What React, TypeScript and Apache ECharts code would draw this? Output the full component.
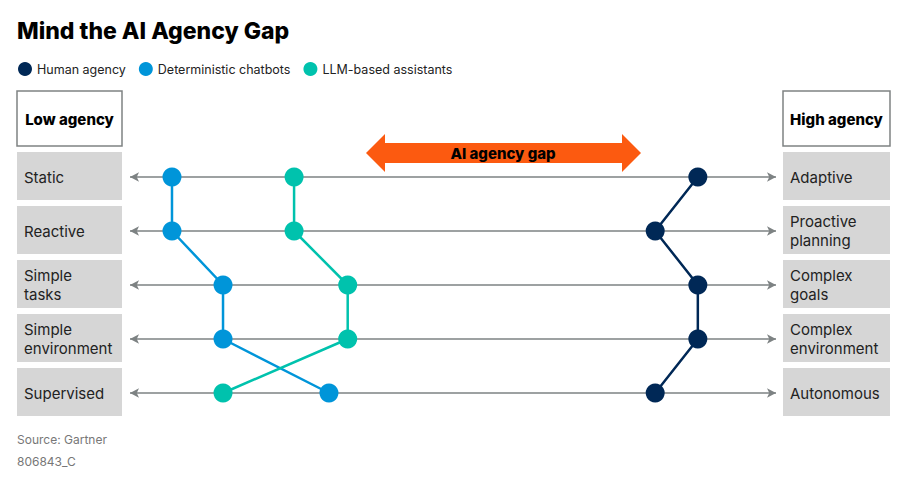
import React, { useEffect, useRef } from "react";
import * as echarts from "echarts";

const lowLabels = ["Static", "Reactive", "Simple\ntasks", "Simple\nenvironment", "Supervised"];
const highLabels = ["Adaptive", "Proactive\nplanning", "Complex\ngoals", "Complex\nenvironment", "Autonomous"];
const seriesNames = ["Human agency", "Deterministic chatbots", "LLM-based assistants"];
const seriesColors = ["#002856", "#0095d9", "#00c2ad"];
// agency position (0 = low, 100 = high) per row
const humanValues = [87.9, 81.3, 87.9, 87.9, 81.3];
const chatbotValues = [6.5, 6.5, 14.4, 14.4, 30.8];
const llmValues = [25.4, 25.4, 33.7, 33.7, 14.4];

const FONT = "Inter, 'Noto Sans', sans-serif";

export default function App() {
  const ref = useRef<HTMLDivElement>(null);
  useEffect(() => {
    document.body.style.margin = "0";
    const chart = echarts.init(ref.current!, null, { renderer: "svg" });
    const gridTop = 150, band = 54, gridLeft = 130, gridRight = 141;
    const allValues = [humanValues, chatbotValues, llmValues];
    const dataSeries = seriesNames.map((name, s) => ({
      name,
      type: "line",
      z: 5,
      symbol: "circle",
      symbolSize: 19,
      itemStyle: { color: seriesColors[s] },
      lineStyle: { color: seriesColors[s], width: 2.5 },
      data: allValues[s].map((v, i) => [v, lowLabels[i]]),
    }));
    const graphics: any[] = [];
    lowLabels.forEach((_, i) => {
      graphics.push({ type: "rect", z: -1, shape: { x: 17, y: gridTop + i * band + 2, width: 105, height: 48 }, style: { fill: "#d6d6d6" } });
      graphics.push({ type: "rect", z: -1, shape: { x: 783, y: gridTop + i * band + 2, width: 107, height: 48 }, style: { fill: "#d6d6d6" } });
    });
    graphics.push({ type: "rect", shape: { x: 17, y: 91, width: 105, height: 55 }, style: { fill: "#fff", stroke: "#7f8283", lineWidth: 1.5 } });
    graphics.push({ type: "text", x: 69.5, y: 119, style: { text: "Low agency", font: `800 15px ${FONT}`, fill: "#000", align: "center", verticalAlign: "middle" } });
    graphics.push({ type: "rect", shape: { x: 783, y: 91, width: 107, height: 55 }, style: { fill: "#fff", stroke: "#7f8283", lineWidth: 1.5 } });
    graphics.push({ type: "text", x: 836.5, y: 119, style: { text: "High agency", font: `800 15px ${FONT}`, fill: "#000", align: "center", verticalAlign: "middle" } });
    graphics.push({
      type: "polygon",
      shape: { points: [[366, 153], [385, 134], [385, 143], [622, 143], [622, 134], [641, 153], [622, 172], [622, 163], [385, 163], [385, 172]] },
      style: { fill: "#fc5a10" },
    });
    graphics.push({ type: "text", x: 503, y: 153, style: { text: "AI agency gap", font: `800 15px ${FONT}`, fill: "#000", align: "center", verticalAlign: "middle" } });
    graphics.push({ type: "text", x: 17, y: 439, style: { text: "Source: Gartner", font: `12px ${FONT}`, fill: "#777", verticalAlign: "middle" } });
    graphics.push({ type: "text", x: 17, y: 461, style: { text: "806843_C", font: `12px ${FONT}`, fill: "#777", verticalAlign: "middle" } });

    chart.setOption({
      animation: false,
      textStyle: { fontFamily: FONT },
      title: { text: "Mind the AI Agency Gap", left: 12, top: 14, textStyle: { fontSize: 23, fontWeight: 800, color: "#000", fontFamily: FONT } },
      legend: {
        data: seriesNames,
        left: 13, top: 57, icon: "circle", itemWidth: 14, itemHeight: 14, itemGap: 13,
        textStyle: { fontSize: 12.5, color: "#222", fontFamily: FONT },
      },
      grid: { left: gridLeft, right: gridRight, top: gridTop, bottom: 487 - gridTop - band * 5 },
      xAxis: { type: "value", min: 0, max: 100, show: false },
      yAxis: [
        {
          type: "category", inverse: true, data: lowLabels,
          axisLine: { show: false }, axisTick: { show: false }, splitLine: { show: false },
          axisLabel: { margin: 106, align: "left", fontSize: 15, lineHeight: 19, color: "#222", fontFamily: FONT },
        },
        {
          type: "category", inverse: true, data: highLabels, position: "right",
          axisLine: { show: false }, axisTick: { show: false }, splitLine: { show: false },
          axisLabel: { margin: 14, align: "left", fontSize: 15, lineHeight: 19, color: "#222", fontFamily: FONT },
        },
      ],
      series: [
        {
          name: "rows", type: "scatter", data: [], z: 1, silent: true,
          markLine: {
            silent: true, symbol: ["arrow", "arrow"], symbolSize: [7, 9],
            lineStyle: { color: "#7d8283", width: 1.5, type: "solid" },
            label: { show: false },
            data: lowLabels.map((l) => [{ coord: [0, l] }, { coord: [100, l] }]),
          },
        },
        ...dataSeries,
      ],
      graphic: graphics,
    });
    return () => chart.dispose();
  }, []);
  return <div ref={ref} style={{ width: 917, height: 487 }} />;
}
